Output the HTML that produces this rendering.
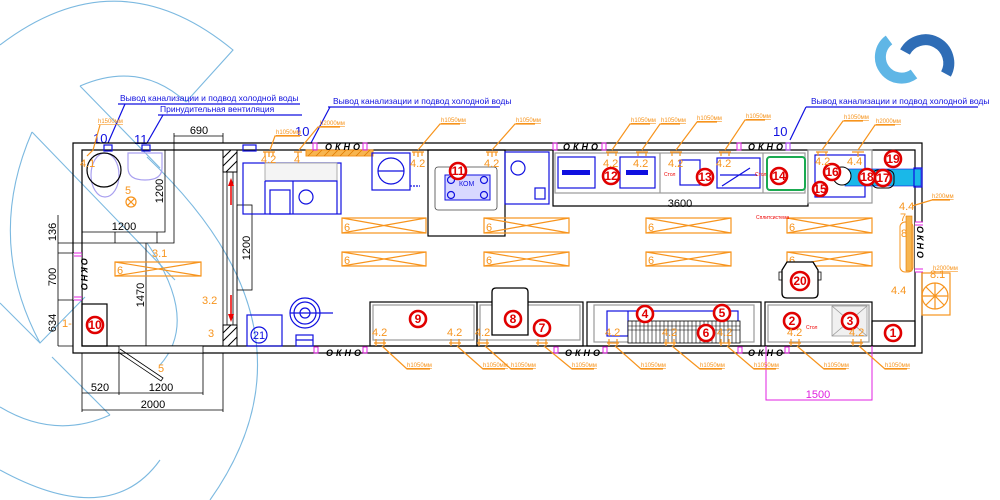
<!DOCTYPE html>
<html><head><meta charset="utf-8">
<style>
html,body{margin:0;padding:0;background:#fff;}
svg{display:block;}
text{font-family:"Liberation Sans",sans-serif;}
.k{stroke:#000;fill:none;stroke-width:1.2}
.k1{stroke:#000;fill:none;stroke-width:0.8}
.g{stroke:#9a9a9a;fill:#fff;stroke-width:1.2}
.b{stroke:#1010e0;fill:none;stroke-width:1.2}
.o{stroke:#f7941d;fill:none;stroke-width:1.2}
.m{stroke:#e020e0;fill:none;stroke-width:1}
.wm{stroke:#7cb9e0;fill:none;stroke-width:1.1}
.rc{stroke:#e00000;fill:#fff;stroke-width:2.6}
.rt{fill:#e00000;font-size:12px;text-anchor:middle;font-weight:bold}
.ot{fill:#f7941d;font-size:11px}
.lt{fill:#f7941d;font-size:6px;text-decoration:underline}
.dt{fill:#000;font-size:11px}
.bt{fill:#1010e0;font-size:8.5px}
.ok{fill:#000;font-size:9px;font-style:italic;font-weight:bold;letter-spacing:3px}
</style></head><body>
<svg width="1000" height="500" viewBox="0 0 1000 500" xmlns="http://www.w3.org/2000/svg">
<!-- watermark -->
<g class="wm">
<path d="M0,45 Q118,-45 233,50 L186,102"/>
<path d="M80,86 Q140,60 186,102"/>
<path d="M80,86 L160,168"/>
<path d="M32,132 Q-15,240 40,343"/>
<path d="M32,132 L175,280"/>
<path d="M0,303 L40,343 L85,297"/>
<path d="M52,357 L110,415"/>
<path d="M0,407 Q55,440 110,415"/>
<path d="M0,470 Q110,530 160,460"/>
<path d="M147,157 Q330,330 210,500"/>
<path d="M147,243 Q200,320 160,365"/>
</g>
<!-- logo -->
<path d="M889,40 A20,20 0 1 0 914,74" stroke="#5fb6e6" stroke-width="11" fill="none"/>
<path d="M905,52 A22,22 0 0 1 946,74" stroke="#2f6db6" stroke-width="11" fill="none"/>

<!-- blue notes -->
<text class="bt" x="120" y="101">Вывод канализации и подвод холодной воды</text>
<line class="b" x1="118" y1="104" x2="300" y2="104" stroke-width="0.8"/>
<text class="bt" x="160" y="112">Принудительная вентиляция</text>
<line class="b" x1="158" y1="115" x2="302" y2="115" stroke-width="0.8"/>
<text class="bt" x="333" y="104">Вывод канализации и подвод холодной воды</text>
<line class="b" x1="328" y1="107" x2="500" y2="107" stroke-width="0.8"/>
<text class="bt" x="811" y="104">Вывод канализации и подвод холодной воды</text>
<line class="b" x1="806" y1="107" x2="978" y2="107" stroke-width="0.8"/>
<path class="b" d="M108,143 L125,104 M147,143 L163,115 M311,143 L330,107 M790,140 L806,107"/>
<text x="93" y="143" fill="#1010e0" font-size="13">10</text>
<text x="134" y="144" fill="#1010e0" font-size="13">11</text>
<text x="295" y="136" fill="#1010e0" font-size="13">10</text>
<text x="773" y="136" fill="#1010e0" font-size="13">10</text>

<!-- walls -->
<path class="k" d="M73,143 L922,143 L922,353 L73,353 Z"/>
<path class="k" d="M82,150 L915,150 L915,346 L82,346 Z"/>
<rect x="73" y="253" width="9" height="47" fill="#fff"/>
<path class="k1" d="M174,143 L174,243 L58,243 M165,150 L165,232 L82,232 M115,232 L115,243 M157,232 L157,243"/>
<path class="k1" d="M223,150 L223,346 M237,150 L237,346 M227,150 L227,346 M233,150 L233,346"/>
<rect x="223" y="150" width="14" height="22" fill="#fff" stroke="#000"/>
<path d="M223,158 L231,150 M223,166 L237,152 M226,172 L237,161" stroke="#000" stroke-width="1"/>
<rect x="223" y="325" width="14" height="21" fill="#fff" stroke="#000"/>
<path d="M223,333 L231,325 M223,341 L237,327 M228,346 L237,337" stroke="#000" stroke-width="1"/>
<path d="M231,205 L231,183" stroke="#e00" stroke-width="1.5"/><path d="M228,186 L231,178 L234,186 Z" fill="#e00"/>
<path d="M231,295 L231,317" stroke="#e00" stroke-width="1.5"/><path d="M228,314 L231,322 L234,314 Z" fill="#e00"/>
<rect class="k1" x="237" y="205" width="15" height="85"/>
<line class="k1" x1="146" y1="243" x2="146" y2="346"/>
<!-- left dims -->
<path class="k1" d="M58,215 L58,346 M58,253 L82,253 M58,300 L82,300 M58,346 L73,346"/>
<text class="dt" transform="translate(56,232) rotate(-90)" text-anchor="middle">136</text>
<text class="dt" transform="translate(56,277) rotate(-90)" text-anchor="middle">700</text>
<text class="dt" transform="translate(56,323) rotate(-90)" text-anchor="middle">634</text>
<text class="dt" transform="translate(144,295) rotate(-90)" text-anchor="middle">1470</text>
<text class="dt" transform="translate(163,191) rotate(-90)" text-anchor="middle">1200</text>
<text class="dt" transform="translate(250,248) rotate(-90)" text-anchor="middle">1200</text>
<text class="dt" x="124" y="230" text-anchor="middle">1200</text>
<path class="k1" d="M174,136 L223,136 M174,133 L174,143 M223,133 L223,143"/>
<text class="dt" x="199" y="134" text-anchor="middle">690</text>
<!-- left window -->
<rect x="73" y="253" width="9" height="47" fill="#fff"/>
<line class="k1" x1="73" y1="253" x2="73" y2="300"/><line class="k1" x1="82" y1="253" x2="82" y2="300"/>
<path class="m" d="M74,253 L82,253 M74,256 L82,256 M74,300 L82,300 M74,297 L82,297"/>
<text class="ok" transform="translate(81,258) rotate(90)" style="letter-spacing:2px">ОКНО</text>
<!-- toilet -->
<ellipse cx="105" cy="175" rx="14" ry="22" stroke="#a9a0f0" fill="none" stroke-width="1.2"/>
<circle class="k" cx="104" cy="170" r="17"/>
<path d="M128,153 L162,153 L162,168 Q162,180 145,180 Q128,180 128,168 Z" stroke="#a9a0f0" fill="none" stroke-width="1.2"/>
<rect class="b" x="104" y="145" width="8" height="6"/><rect class="b" x="142" y="145" width="8" height="6"/>
<text class="ot" x="125" y="194">5</text>
<circle cx="131" cy="202" r="5" class="o"/><path class="o" d="M127,198 L135,206 M135,198 L127,206"/>
<text class="ot" x="80" y="167">4.1</text><path class="o" d="M87,156 L93,150 L100,125"/>
<text class="lt" x="98" y="123">h1500мм</text>
<text class="ot" x="152" y="257">3.1</text>
<rect class="o" x="115" y="262" width="86" height="14"/><path class="o" d="M115,262 L201,276 M201,262 L115,276"/>
<text class="ot" x="117" y="274">6</text>
<rect class="k" x="82" y="304" width="25" height="42"/>
<circle class="rc" cx="95" cy="325" r="8"/><text class="rt" x="95" y="329" font-size="10">10</text>
<text class="ot" x="62" y="327">1-</text>
<text class="ot" x="202" y="304">3.2</text>
<text class="ot" x="208" y="337">3</text>
<!-- bottom door & dims -->
<rect x="119" y="346" width="84" height="7" fill="#fff" stroke="#000" stroke-width="0.8"/>
<path class="k1" d="M120,349 L163,378 L161,381 L118,352"/>
<text class="ot" x="158" y="372">5</text>
<path class="k1" d="M82,353 L82,412 M119,353 L119,395 M203,353 L203,395 M223,353 L223,412 M82,393 L203,393 M82,410 L223,410"/>
<text class="dt" x="100" y="391" text-anchor="middle">520</text>
<text class="dt" x="161" y="391" text-anchor="middle">1200</text>
<text class="dt" x="153" y="408" text-anchor="middle">2000</text>

<!-- top wall decorations -->
<rect class="b" x="243" y="145" width="13" height="6"/>
<rect x="306" y="150" width="67" height="6" fill="#f7b550" stroke="#f7941d"/>
<path d="M308,156 L314,150 M316,156 L322,150 M324,156 L330,150 M332,156 L338,150 M340,156 L346,150 M348,156 L354,150 M356,156 L362,150 M364,156 L370,150" stroke="#e07a00" stroke-width="0.8"/>
<rect x="313" y="143" width="4" height="7" fill="none" stroke="#e020e0"/>
<rect x="363" y="143" width="4" height="7" fill="none" stroke="#e020e0"/>
<text class="ok" x="325" y="150">ОКНО</text>
<text class="ok" x="563" y="150">ОКНО</text>
<rect x="553" y="143" width="4" height="7" fill="none" stroke="#e020e0"/><rect x="602" y="143" width="4" height="7" fill="none" stroke="#e020e0"/>
<text class="ok" x="748" y="150">ОКНО</text>
<rect x="737" y="143" width="4" height="7" fill="none" stroke="#e020e0"/><rect x="786" y="143" width="4" height="7" fill="none" stroke="#b040ff"/>

<!-- sink cluster -->
<rect class="b" x="243" y="163" width="98" height="51"/>
<rect x="265" y="163" width="72" height="18" fill="#f4f4f4" stroke="#999" stroke-width="0.8"/>
<path class="b" d="M265,181 L337,181 L337,214 M265,181 L265,214 M293,181 L293,214"/>
<rect class="b" x="270" y="190" width="20" height="24"/>
<circle class="b" cx="306" cy="197" r="7"/>
<text class="ot" x="261" y="163">4.2</text><text class="ot" x="294" y="163">4</text>
<path class="o" d="M263,152 L275,152 M265,152 L265,156 M273,152 L273,156 M269,152 L269,157 M294,152 L302,152 M298,152 L298,157"/>
<path class="o" d="M270,150 L275,136 L300,136 M299,150 L318,127 L340,127"/>
<text class="lt" x="276" y="134">h1050мм</text><text class="lt" x="320" y="125">h2000мм</text>

<!-- blue unit -->
<rect class="b" x="372" y="153" width="38" height="37"/>
<circle class="b" cx="391" cy="171" r="13"/><path class="b" d="M378,171 L404,171"/>
<path class="b" d="M410,186 L420,186" stroke-dasharray="2,1"/>
<!-- box 11 -->
<rect class="k" x="428" y="150" width="77" height="86" fill="#fff"/>
<rect x="435" y="167" width="62" height="43" rx="3" fill="none" stroke="#444" stroke-width="0.8"/>
<rect x="445" y="175" width="45" height="25" fill="#d8d8ff" stroke="#1010e0"/>
<circle class="b" cx="451" cy="180" r="3.5"/><circle class="b" cx="484" cy="180" r="3.5"/><circle class="b" cx="451" cy="195" r="3.5"/><circle class="b" cx="484" cy="195" r="3.5"/>
<text x="459" y="186" fill="#1010e0" font-size="7">КОМ</text>
<circle class="rc" cx="458" cy="171" r="8" fill="none"/><text class="rt" x="458" y="175" font-size="10">11</text>
<!-- blue box -->
<rect class="b" x="505" y="152" width="44" height="52"/>
<circle class="b" cx="518" cy="168" r="7"/><rect class="b" x="535" y="188" width="10" height="11"/>
<!-- fixtures top -->
<g class="o">
<path d="M412,152 L424,152 M414,152 L414,156 M422,152 L422,156 M418,152 L418,157 M486,152 L498,152 M488,152 L488,156 M496,152 L496,156 M492,152 L492,157"/>
<path d="M418,150 L440,124 L460,124 M492,150 L515,124 L535,124"/>
</g>
<text class="ot" x="410" y="167">4.2</text><text class="ot" x="484" y="167">4.2</text>
<text class="lt" x="441" y="122">h1050мм</text><text class="lt" x="516" y="122">h1050мм</text>

<!-- counter 12-14 -->
<path class="k" d="M553,150 L553,206 L808,206 L808,150"/>
<rect class="g" x="555" y="153" width="250" height="40"/>
<path class="g" d="M660,153 L660,193 M763,153 L763,193"/>
<rect class="b" x="558" y="157" width="37" height="31"/><rect x="562" y="170" width="28" height="5" fill="#1010e0"/>
<rect class="b" x="620" y="157" width="35" height="31"/><rect x="626" y="170" width="22" height="5" fill="#1010e0"/>
<rect class="b" x="680" y="160" width="20" height="25"/>
<rect class="b" x="717" y="158" width="43" height="30"/><path class="b" d="M720,175 L757,175 M722,186 L750,168"/>
<rect x="767" y="157" width="38" height="33" rx="3" fill="none" stroke="#1aaa50" stroke-width="2"/>
<circle class="rc" cx="611" cy="176" r="8" fill="#fff"/><text class="rt" x="611" y="180" font-size="10">12</text>
<circle class="rc" cx="705" cy="177" r="8" fill="#fff"/><text class="rt" x="705" y="181" font-size="10">13</text>
<circle class="rc" cx="779" cy="176" r="8" fill="#fff"/><text class="rt" x="779" y="180" font-size="10">14</text>
<text x="664" y="176" fill="#e00" font-size="5">Стол</text><text x="755" y="176" fill="#e00" font-size="5">Стол</text>
<text class="dt" x="680" y="207" text-anchor="middle">3600</text>
<g class="o">
<path d="M606,152 L618,152 M608,152 L608,156 M616,152 L616,156 M636,152 L648,152 M638,152 L638,156 M646,152 L646,156 M670,152 L682,152 M672,152 L672,156 M680,152 L680,156 M719,152 L731,152 M721,152 L721,156 M729,152 L729,156"/>
<path d="M612,150 L630,124 L650,124 M642,150 L660,124 L680,124 M676,150 L697,122 L717,122 M725,150 L745,120 L765,120"/>
</g>
<text class="ot" x="603" y="167">4.2</text><text class="ot" x="633" y="167">4.2</text><text class="ot" x="668" y="167">4.2</text><text class="ot" x="716" y="167">4.2</text>
<text class="lt" x="631" y="122">h1050мм</text><text class="lt" x="661" y="122">h1050мм</text><text class="lt" x="697" y="120">h1050мм</text><text class="lt" x="746" y="118">h1050мм</text>

<!-- block 15-19 -->
<rect class="g" x="808" y="150" width="64" height="53"/>
<rect class="b" x="815" y="155" width="50" height="42"/>
<rect x="845" y="169" width="76" height="17" fill="#1ab8e8" stroke="#1010e0" stroke-width="0.6"/>
<rect class="b" x="914" y="168" width="8" height="19"/>
<circle cx="842" cy="176" r="9" stroke="#000" fill="#fff" stroke-width="1"/>
<rect x="872" y="170" width="22" height="18" rx="6" fill="none" stroke="#000"/>
<circle class="rc" cx="832" cy="172" r="8" fill="none"/><text class="rt" x="832" y="176" font-size="10">16</text>
<circle class="rc" cx="820" cy="189" r="7" fill="none"/><text class="rt" x="820" y="193" font-size="9">15</text>
<circle class="rc" cx="867" cy="177" r="8" fill="none"/><text class="rt" x="867" y="181" font-size="10">18</text>
<circle class="rc" cx="883" cy="178" r="8" fill="none"/><text class="rt" x="883" y="182" font-size="10">17</text>
<circle class="rc" cx="893" cy="159" r="8" fill="#fff"/><text class="rt" x="893" y="163" font-size="10">19</text>
<path class="o" d="M816,152 L828,152 M818,152 L818,156 M826,152 L826,156 M852,152 L864,152 M858,152 L858,157 M822,150 L843,121 L863,121 M858,150 L875,125 L895,125"/>
<text class="ot" x="815" y="165">4.2</text><text class="ot" x="847" y="165">4.4</text>
<text class="lt" x="844" y="119">h1050мм</text><text class="lt" x="876" y="123">h2000мм</text>

<!-- right side -->
<rect x="915" y="222" width="8" height="50" fill="#fff"/>
<path class="m" d="M915,222 L923,222 M915,225 L923,225 M915,269 L923,269 M915,272 L923,272"/>
<text class="ok" transform="translate(917,226) rotate(90)" style="letter-spacing:2px">ОКНО</text>
<rect x="900" y="222" width="13" height="50" rx="5" fill="none" stroke="#f7941d"/>
<rect x="906" y="216" width="6" height="55" fill="#f7b550" stroke="#e07a00" stroke-width="0.6"/>
<text class="ot" x="899" y="210">4.4</text><text class="ot" x="900" y="221">7</text><text class="ot" x="901" y="237">8</text>
<path class="o" d="M912,206 L932,200 L950,200"/><text class="lt" x="932" y="198">h200мм</text>
<rect class="o" x="922" y="273" width="28" height="42"/>
<circle class="o" cx="935" cy="296" r="13"/><path class="o" d="M926,287 L944,305 M944,287 L926,305 M935,283 L935,309 M922,296 L948,296"/>
<text class="ot" x="930" y="278">8.1</text><text class="ot" x="891" y="294">4.4</text>
<text class="lt" x="933" y="270">h2000мм</text>

<!-- tables 6 -->
<g class="o">
<rect x="342" y="218" width="84" height="15"/><path d="M342,218 L426,233 M426,218 L342,233"/>
<rect x="484" y="218" width="85" height="15"/><path d="M484,218 L569,233 M569,218 L484,233"/>
<rect x="646" y="218" width="85" height="15"/><path d="M646,218 L731,233 M731,218 L646,233"/>
<rect x="787" y="218" width="85" height="15"/><path d="M787,218 L872,233 M872,218 L787,233"/>
<rect x="342" y="252" width="84" height="14"/><path d="M342,252 L426,266 M426,252 L342,266"/>
<rect x="484" y="252" width="85" height="14"/><path d="M484,252 L569,266 M569,252 L484,266"/>
<rect x="646" y="252" width="85" height="14"/><path d="M646,252 L731,266 M731,252 L646,266"/>
<rect x="787" y="252" width="85" height="14"/><path d="M787,252 L872,266 M872,252 L787,266"/>
</g>
<g class="ot"><text x="344" y="231">6</text><text x="486" y="231">6</text><text x="648" y="231">6</text><text x="789" y="231">6</text>
<text x="344" y="264">6</text><text x="486" y="264">6</text><text x="648" y="264">6</text><text x="789" y="264">6</text></g>
<text x="756" y="219" fill="#e00" font-size="5">Сплитсистема</text>

<!-- 20 -->
<path d="M787,262 L813,262 L818,270 L818,293 Q818,298 813,298 L787,298 Q782,298 782,293 L782,270 Z" fill="#fff" stroke="#000" stroke-width="1.3"/>
<path class="k1" d="M782,272 L779,272 L779,280 L782,280 M818,272 L821,272 L821,280 L818,280"/>
<circle class="rc" cx="800" cy="281" r="9" fill="none"/><text class="rt" x="800" y="285" font-size="11">20</text>

<!-- 21 -->
<rect class="b" x="247" y="315" width="35" height="31"/>
<circle class="b" cx="259" cy="335" r="8"/><text x="259" y="339" fill="#1010e0" font-size="11" text-anchor="middle">21</text>
<circle class="b" cx="305" cy="313" r="15"/><circle class="b" cx="305" cy="313" r="11"/><circle class="b" cx="305" cy="313" r="5"/>
<path class="b" d="M290,313 L333,313" stroke-width="0.7"/>
<rect class="b" x="296" y="335" width="17" height="11"/><path class="b" d="M296,340 L313,340"/>

<!-- bottom counters -->
<rect class="k" x="370" y="302" width="107" height="44"/>
<rect class="g" x="373" y="305" width="101" height="35"/>
<rect class="k" x="477" y="302" width="106" height="44"/>
<rect class="g" x="480" y="305" width="100" height="35"/>
<path d="M492,335 L492,292 Q492,288 496,288 L524,288 Q528,288 528,292 L528,335 Z" fill="#fff" stroke="#000" stroke-width="1.3"/>
<circle class="rc" cx="418" cy="319" r="8" fill="none"/><text class="rt" x="418" y="323" font-size="11">9</text>
<circle class="rc" cx="513" cy="319" r="8" fill="none"/><text class="rt" x="513" y="323" font-size="11">8</text>
<circle class="rc" cx="542" cy="328" r="8" fill="none"/><text class="rt" x="542" y="332" font-size="11">7</text>
<rect class="k" x="587" y="302" width="174" height="44"/>
<rect class="g" x="594" y="305" width="160" height="37"/>
<rect class="b" x="607" y="311" width="131" height="25" stroke-width="0.8"/>
<path class="b" d="M628,311 L628,336" stroke-width="0.8"/>
<rect x="628" y="321" width="112" height="22" fill="#fff" stroke="#000" stroke-width="0.8"/>
<path d="M632,321 L632,343 M636,321 L636,343 M640,321 L640,343 M644,321 L644,343 M648,321 L648,343 M652,321 L652,343 M656,321 L656,343 M660,321 L660,343 M664,321 L664,343 M668,321 L668,343 M672,321 L672,343 M676,321 L676,343 M680,321 L680,343 M684,321 L684,343 M688,321 L688,343 M692,321 L692,343 M696,321 L696,343 M700,321 L700,343 M704,321 L704,343 M708,321 L708,343 M712,321 L712,343 M716,321 L716,343 M720,321 L720,343 M724,321 L724,343 M728,321 L728,343 M732,321 L732,343 M736,321 L736,343 M628,326 L740,326 M628,330 L740,330" stroke="#000" stroke-width="0.6"/>
<circle class="rc" cx="645" cy="314" r="8" fill="#fff"/><text class="rt" x="645" y="318" font-size="11">4</text>
<circle class="rc" cx="722" cy="313" r="8" fill="#fff"/><text class="rt" x="722" y="317" font-size="11">5</text>
<circle class="rc" cx="706" cy="333" r="8" fill="none"/><text class="rt" x="706" y="337" font-size="11">6</text>
<rect class="k" x="765" y="302" width="107" height="44"/>
<rect class="g" x="768" y="305" width="101" height="37"/>
<rect x="832" y="306" width="35" height="30" fill="#f0f0f0" stroke="#999" stroke-width="0.8"/><path d="M832,306 L867,336 M867,306 L832,336" stroke="#999" stroke-width="0.8"/>
<circle class="rc" cx="792" cy="321" r="8" fill="none"/><text class="rt" x="792" y="325" font-size="11">2</text>
<circle class="rc" cx="850" cy="321" r="8" fill="none"/><text class="rt" x="850" y="325" font-size="11">3</text>
<text x="806" y="329" fill="#e00" font-size="5">Стол</text>
<rect class="k" x="872" y="321" width="43" height="25" stroke-width="1.5"/>
<circle class="rc" cx="893" cy="333" r="8" fill="none"/><text class="rt" x="893" y="337" font-size="11">1</text>
<!-- magenta dim -->
<path class="m" d="M766,346 L766,400 L872,400 L872,346"/>
<text x="818" y="398" fill="#e020e0" font-size="11" text-anchor="middle">1500</text>

<!-- bottom windows -->
<text class="ok" x="326" y="356">ОКНО</text>
<rect x="314" y="347" width="4" height="6" fill="none" stroke="#e020e0"/><rect x="363" y="347" width="4" height="6" fill="none" stroke="#e020e0"/>
<text class="ok" x="565" y="356">ОКНО</text>
<rect x="554" y="347" width="4" height="6" fill="none" stroke="#e020e0"/><rect x="603" y="347" width="4" height="6" fill="none" stroke="#e020e0"/>
<text class="ok" x="748" y="356">ОКНО</text>
<rect x="738" y="347" width="4" height="6" fill="none" stroke="#e020e0"/><rect x="785" y="347" width="4" height="6" fill="none" stroke="#e020e0"/>

<!-- bottom fixtures -->
<g class="o">
<path d="M374,343 L386,343 M376,339 L376,346 M384,339 L384,346 M449,343 L461,343 M451,339 L451,346 M459,339 L459,346 M477,343 L489,343 M479,339 L479,346 M487,339 L487,346 M536,343 L548,343 M538,339 L538,346 M546,339 L546,346 M607,343 L619,343 M609,339 L609,346 M617,339 L617,346 M664,343 L676,343 M666,339 L666,346 M674,339 L674,346 M719,343 L731,343 M721,339 L721,346 M729,339 L729,346 M789,343 L801,343 M791,339 L791,346 M799,339 L799,346 M851,343 L863,343 M853,339 L853,346 M861,339 L861,346"/>
<path d="M382,346 L407,369 L430,369 M457,346 L483,369 L505,369 M485,346 L511,369 L533,369 M544,346 L572,369 L594,369 M615,346 L641,369 L663,369 M672,346 L700,369 L722,369 M727,346 L754,369 L776,369 M797,346 L824,369 L846,369 M859,346 L885,369 L907,369"/>
</g>
<g class="ot">
<text x="372" y="336">4.2</text><text x="447" y="336">4.2</text><text x="475" y="336">4.2</text><text x="605" y="336">4.2</text><text x="662" y="336">4.2</text><text x="717" y="336">4.2</text><text x="787" y="336">4.2</text><text x="849" y="336">4.2</text>
</g>
<g class="lt">
<text x="407" y="367">h1050мм</text><text x="483" y="367">h1050мм</text><text x="511" y="367">h1050мм</text><text x="572" y="367">h1050мм</text><text x="641" y="367">h1050мм</text><text x="700" y="367">h1050мм</text><text x="754" y="367">h1050мм</text><text x="824" y="367">h1050мм</text><text x="885" y="367">h1050мм</text>
</g>
</svg>
</body></html>
